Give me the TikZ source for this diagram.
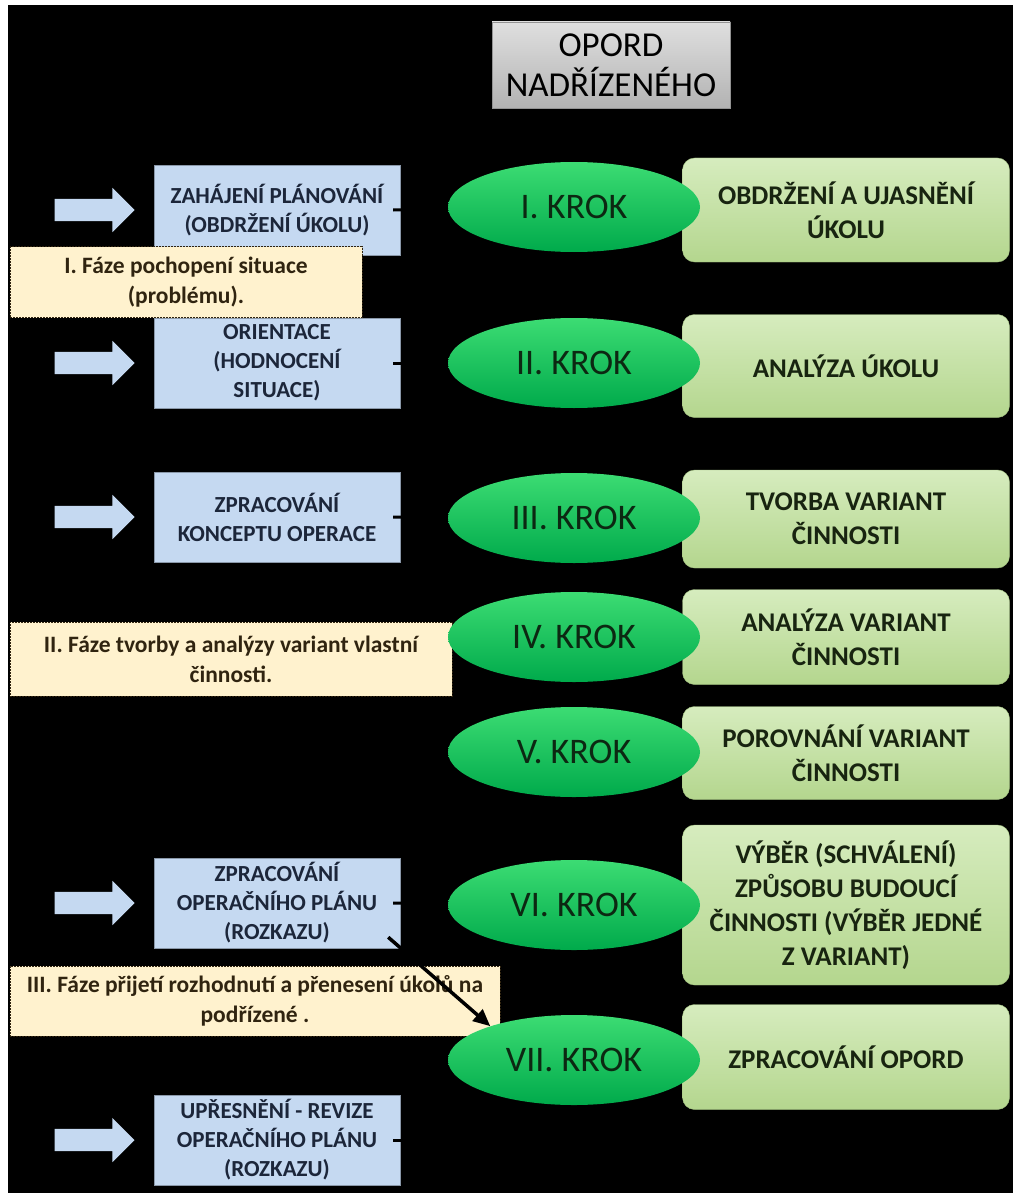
\documentclass[tikz,border=0pt]{standalone}
\usepackage{fontspec}
\setmainfont{Carlito}
\usepackage{tikz}
\usetikzlibrary{shapes.geometric, shapes.arrows, arrows.meta, positioning, calc}

\definecolor{bluefill}{RGB}{197,217,241}
\definecolor{bluetext}{RGB}{28,38,58}
\definecolor{notefill}{RGB}{255,242,206}
\definecolor{notetext}{RGB}{48,36,16}
\definecolor{krokhi}{RGB}{60,220,115}
\definecolor{kroklo}{RGB}{0,170,75}
\definecolor{krokhtext}{RGB}{12,40,18}
\definecolor{stephi}{RGB}{214,236,190}
\definecolor{steplo}{RGB}{180,214,142}
\definecolor{steptext}{RGB}{24,36,16}

\begin{document}
\begin{tikzpicture}[
  x=1pt, y=-1pt,
  phasebox/.style={draw=bluefill!70!black, fill=bluefill, minimum width=246pt, minimum height=90pt,
    align=center, text=bluetext, font=\fontsize{23}{29}\selectfont\bfseries},
  fwd/.style={single arrow, fill=bluefill, minimum height=80pt, minimum width=44pt,
    single arrow head extend=11pt, single arrow head indent=0pt, inner sep=11pt},
  note/.style={draw=notetext, dash pattern=on 2pt off 1pt, fill=notefill, align=center,
    text=notetext, font=\fontsize{23.5}{30}\selectfont\bfseries},
  krok/.style={ellipse, top color=krokhi, bottom color=kroklo, minimum width=252pt,
    minimum height=90pt, inner sep=0pt, text=krokhtext, font=\fontsize{36}{40}\selectfont},
  stepbox/.style={rounded corners=12pt, top color=stephi, bottom color=steplo, draw=steplo!90!black,
    minimum width=327pt, align=center, text=steptext, font=\fontsize{27}{34}\selectfont\bfseries},
  title/.style={top color=gray!25, bottom color=gray!60, draw=gray!85, minimum width=238pt,
    minimum height=86pt, align=center, font=\fontsize{35}{40}\selectfont},
  link/.style={draw=black, line width=3pt},
]

%% background
\useasboundingbox (0,0) rectangle (1013,1193);
\fill[white] (0,0) rectangle (1013,1193);
\fill[black] (8,5) rectangle (1013,1193);

%% superior order
\node[title] (opord) at (611,65) {OPORD\\NADŘÍZENÉHO};

%% left column: planning activities
\node[phasebox] (zb1) at (277,210) {ZAHÁJENÍ PLÁNOVÁNÍ\\(OBDRŽENÍ ÚKOLU)};
\node[phasebox] (zb2) at (277,363) {ORIENTACE\\(HODNOCENÍ\\SITUACE)};
\node[phasebox] (zb3) at (277,517) {ZPRACOVÁNÍ\\KONCEPTU OPERACE};
\node[phasebox] (zb4) at (277,903) {ZPRACOVÁNÍ\\OPERAČNÍHO PLÁNU\\(ROZKAZU)};
\node[phasebox] (zb5) at (277,1140) {UPŘESNĚNÍ - REVIZE\\OPERAČNÍHO PLÁNU\\(ROZKAZU)};

\node[fwd, left=19pt of zb1] (a1) {};
\node[fwd, left=19pt of zb2] (a2) {};
\node[fwd, left=19pt of zb3] (a3) {};
\node[fwd, left=19pt of zb4] (a4) {};
\node[fwd, left=19pt of zb5] (a5) {};

%% phases
\node[note, minimum width=352pt, minimum height=71pt] (ph1) at (186,282)
  {I. Fáze pochopení situace\\(problému).};
\node[note, minimum width=442pt, minimum height=74pt] (ph2) at (231,659)
  {II. Fáze tvorby a analýzy variant vlastní\\činnosti.};
\node[note, minimum width=490pt, minimum height=70pt] (ph3) at (255,1001)
  {III. Fáze přijetí rozhodnutí a přenesení úkolů na\\podřízené .};

%% right column: step contents
\node[stepbox, minimum height=104pt] (g1) at (846,210) {OBDRŽENÍ A UJASNĚNÍ\\ÚKOLU};
\node[stepbox, minimum height=103pt] (g2) at (846,366) {ANALÝZA ÚKOLU};
\node[stepbox, minimum height=98pt] (g3) at (846,519) {TVORBA VARIANT\\ČINNOSTI};
\node[stepbox, minimum height=95pt] (g4) at (846,637) {ANALÝZA VARIANT\\ČINNOSTI};
\node[stepbox, minimum height=93pt] (g5) at (846,753) {POROVNÁNÍ VARIANT\\ČINNOSTI};
\node[stepbox, minimum height=160pt] (g6) at (846,905)
  {VÝBĚR (SCHVÁLENÍ)\\ZPŮSOBU BUDOUCÍ\\ČINNOSTI (VÝBĚR JEDNÉ\\Z VARIANT)};
\node[stepbox, minimum height=105pt] (g7) at (846,1057) {ZPRACOVÁNÍ OPORD};

%% steps
\node[krok] (k1) at (574,207) {I. KROK};
\node[krok] (k2) at (574,363) {II. KROK};
\node[krok] (k3) at (574,518) {III. KROK};
\node[krok] (k4) at (574,637) {IV. KROK};
\node[krok] (k5) at (574,752) {V. KROK};
\node[krok] (k6) at (574,905) {VI. KROK};
\node[krok] (k7) at (574,1060) {VII. KROK};

%% connectors
\draw[link] ([xshift=-7pt]zb1.east) -- (k1);
\draw[link] ([xshift=-7pt]zb2.east) -- (k2);
\draw[link] ([xshift=-7pt]zb3.east) -- (k3);
\draw[link] ([xshift=-7pt]zb4.east) -- (k6);
\draw[link] ([xshift=-7pt]zb5.east) -- (k7.west |- zb5.east);
\draw[draw=black, line width=3.5pt, -{Triangle[length=17pt, width=15pt]}]
  ($(zb4.south east)+(-12,-11)$) -- (k7.158);

\end{tikzpicture}
\end{document}
